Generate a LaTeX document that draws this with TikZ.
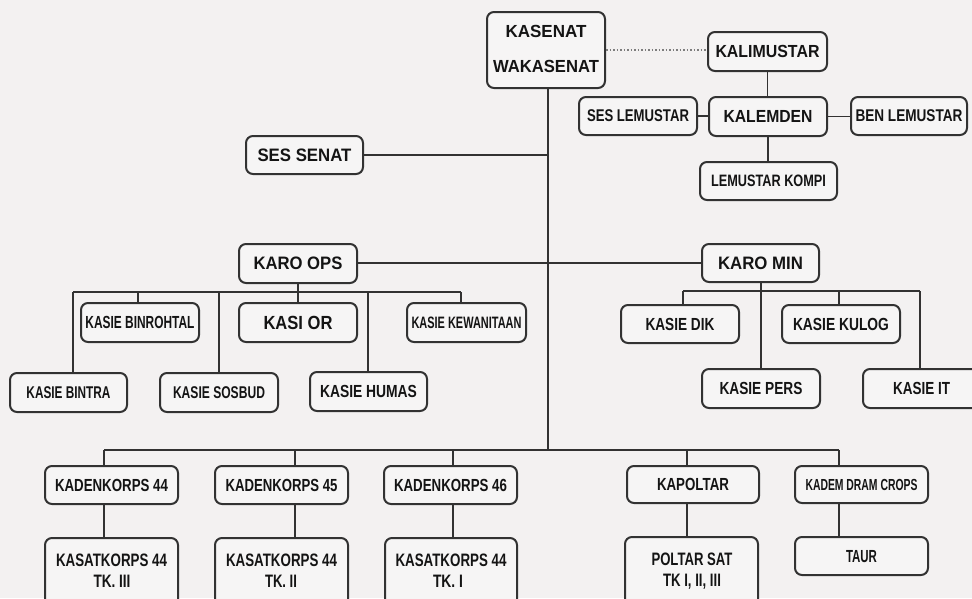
\documentclass[tikz,border=0pt]{standalone}
\usepackage{fontspec}
\setmainfont{Liberation Sans}
\usepackage{graphicx}
\definecolor{bgc}{RGB}{243,241,241}
\definecolor{boxc}{RGB}{246,245,245}
\definecolor{linec}{RGB}{50,50,50}
\definecolor{txtc}{RGB}{20,20,20}
\definecolor{dotc}{RGB}{125,125,125}
\newcommand\lb[3]{\fontsize{#1}{#1}\selectfont\bfseries\resizebox{#2pt}{\height}{#3}}
\newcommand\bx[6]{\node[box, minimum width={#4-#2}, minimum height={#5-#3}] (#1) at ({(#2+#4)/2},{(#3+#5)/2}) {#6};}
\begin{document}
\begin{tikzpicture}[x=1pt,y=-1pt,
  box/.style={draw=linec, line width=2pt, rounded corners=7pt, fill=boxc, inner sep=0pt, text depth=0pt, text=txtc},
  lbl/.style={inner sep=0pt, text depth=0pt, text=txtc},
  conn/.style={draw=linec, line width=1.6pt},
  dotline/.style={draw=dotc, line width=1.5pt, dotted}]
\fill[bgc] (0,0) rectangle (972,598);
\useasboundingbox (0,0) rectangle (972,598);

% coordinates of buses
\coordinate (trunkB) at (548,450);
\coordinate (botL) at (104,450);
\coordinate (botR) at (839,450);
\coordinate (opsL) at (73,292);
\coordinate (opsR) at (461,292);
\coordinate (minL) at (683,291);
\coordinate (minR) at (920,291);

% boxes
\bx{kasenat}{487}{12}{605}{88}{}
\node[lbl] (kasenatA) at (546,31) {\lb{17.5}{81}{KASENAT}};
\node[lbl] (kasenatB) at (546,66.3) {\lb{17.5}{106}{WAKASENAT}};
\bx{kalimustar}{708}{32}{827}{71}{\lb{17.5}{104}{KALIMUSTAR}}
\bx{kalemden}{709}{97}{827}{136}{\lb{17.5}{89}{KALEMDEN}}
\bx{seslem}{579}{97}{697}{135}{\lb{17}{102}{SES LEMUSTAR}}
\bx{benlem}{851}{97}{967}{135}{\lb{17}{107}{BEN LEMUSTAR}}
\bx{lemkompi}{700}{162}{837}{200}{\lb{16.5}{115}{LEMUSTAR KOMPI}}
\bx{sessenat}{246}{136}{363}{174}{\lb{18}{94}{SES SENAT}}
\bx{karoops}{239}{244}{357}{283}{\lb{18}{89}{KARO OPS}}
\bx{karomin}{702}{244}{819}{282}{\lb{18}{85}{KARO MIN}}
\bx{binrohtal}{81}{303}{199}{342}{\lb{17.5}{109}{KASIE BINROHTAL}}
\bx{kasior}{239}{303}{357}{342}{\lb{19}{69}{KASI OR}}
\bx{kewanitaan}{407}{303}{526}{342}{\lb{16.5}{110}{KASIE KEWANITAAN}}
\bx{bintra}{10}{373}{127}{412}{\lb{17}{84}{KASIE BINTRA}}
\bx{sosbud}{160}{373}{278}{412}{\lb{17}{92}{KASIE SOSBUD}}
\bx{humas}{310}{372}{427}{411}{\lb{17.5}{97}{KASIE HUMAS}}
\bx{dik}{621}{305}{739}{343}{\lb{17.5}{69}{KASIE DIK}}
\bx{kulog}{782}{305}{900}{343}{\lb{17.5}{96}{KASIE KULOG}}
\bx{pers}{702}{369}{820}{408}{\lb{17.5}{83}{KASIE PERS}}
\bx{it}{863}{369}{980}{408}{\lb{17.5}{57}{KASIE IT}}
\bx{kdA}{45}{466}{178}{504}{\lb{17.5}{113}{KADENKORPS 44}}
\bx{kdB}{215}{466}{348}{504}{\lb{17.5}{112}{KADENKORPS 45}}
\bx{kdC}{384}{466}{517}{504}{\lb{17.5}{113}{KADENKORPS 46}}
\bx{kapoltar}{627}{466}{759}{503}{\lb{17.5}{72}{KAPOLTAR}}
\bx{kadem}{795}{466}{928}{503}{\lb{16}{112}{KADEM DRAM CROPS}}
\bx{ksA}{45}{538}{178}{612}{}
\node[lbl] (ksAa) at (111.5,560) {\lb{18}{111}{KASATKORPS 44}};
\node[lbl] (ksAb) at (112,581.7) {\lb{18}{37}{TK. III}};
\bx{ksB}{215}{538}{348}{612}{}
\node[lbl] (ksBa) at (281.5,560) {\lb{18}{111}{KASATKORPS 44}};
\node[lbl] (ksBb) at (281,581.7) {\lb{18}{32}{TK. II}};
\bx{ksC}{385}{538}{517}{612}{}
\node[lbl] (ksCa) at (451,560) {\lb{18}{111}{KASATKORPS 44}};
\node[lbl] (ksCb) at (448,581.7) {\lb{18}{30}{TK. I}};
\bx{poltarsat}{625}{537}{758}{612}{}
\node[lbl] (poltarA) at (692,559.3) {\lb{18}{81}{POLTAR SAT}};
\node[lbl] (poltarB) at (692,580) {\lb{18}{58}{TK I, II, III}};
\bx{taur}{795}{537}{928}{575}{\lb{17.5}{31}{TAUR}}

% connectors
\draw[conn] ([xshift=2pt]kasenat.south) -- (trunkB);
\draw[conn] (botL) -- (botR);
\draw[conn] (sessenat.east) -- (sessenat.east -| trunkB);
\draw[conn] ([yshift=0.5pt]karoops.east) -- (karomin.west);
\draw[dotline] (kasenat.east) -- (kasenat.east -| kalimustar.west);
\draw[conn] (kalimustar.south) -- (kalimustar.south |- kalemden.north);
\draw[conn] (seslem.east) -- (seslem.east -| kalemden.west);
\draw[conn] (kalemden.east) -- (kalemden.east -| benlem.west);
\draw[conn] (kalemden.south) -- (kalemden.south |- lemkompi.north);

% KARO OPS branch
\draw[conn] (karoops.south) -- (karoops.south |- opsL);
\draw[conn] (opsL) -- (opsR);
\draw[conn] (opsL) -- (opsL |- bintra.north);
\draw[conn] ([xshift=-2pt]binrohtal.north) -- ([xshift=-2pt]binrohtal.north |- opsL);
\draw[conn] (sosbud.north) -- (sosbud.north |- opsL);
\draw[conn] (kasior.north) -- (kasior.north |- opsL);
\draw[conn] ([xshift=-0.5pt]humas.north) -- ([xshift=-0.5pt]humas.north |- opsL);
\draw[conn] (opsR) -- (opsR |- kewanitaan.north);

% KARO MIN branch
\draw[conn] ([xshift=0.5pt]karomin.south) -- ([xshift=0.5pt]karomin.south |- pers.north);
\draw[conn] (minL) -- (minR);
\draw[conn] (minL) -- (minL |- dik.north);
\draw[conn] ([xshift=-2pt]kulog.north) -- ([xshift=-2pt]kulog.north |- minL);
\draw[conn] (minR) -- (minR |- it.north);

% bottom branch
\draw[conn] (botL) -- (botL |- kdA.north);
\draw[conn] (botL |- kdA.south) -- (botL |- ksA.north);
\draw[conn] ([xshift=13.5pt]kdB.north) -- ([xshift=13.5pt]kdB.north |- botL);
\draw[conn] ([xshift=13.5pt]kdB.south) -- ([xshift=13.5pt]kdB.south |- ksB.north);
\draw[conn] ([xshift=2.5pt]kdC.north) -- ([xshift=2.5pt]kdC.north |- botL);
\draw[conn] ([xshift=2.5pt]kdC.south) -- ([xshift=2.5pt]kdC.south |- ksC.north);
\draw[conn] ([xshift=-6pt]kapoltar.north) -- ([xshift=-6pt]kapoltar.north |- botL);
\draw[conn] ([xshift=-6pt]kapoltar.south) -- ([xshift=-6pt]kapoltar.south |- poltarsat.north);
\draw[conn] (botR) -- (botR |- kadem.north);
\draw[conn] (botR |- kadem.south) -- (botR |- taur.north);
\end{tikzpicture}
\end{document}
